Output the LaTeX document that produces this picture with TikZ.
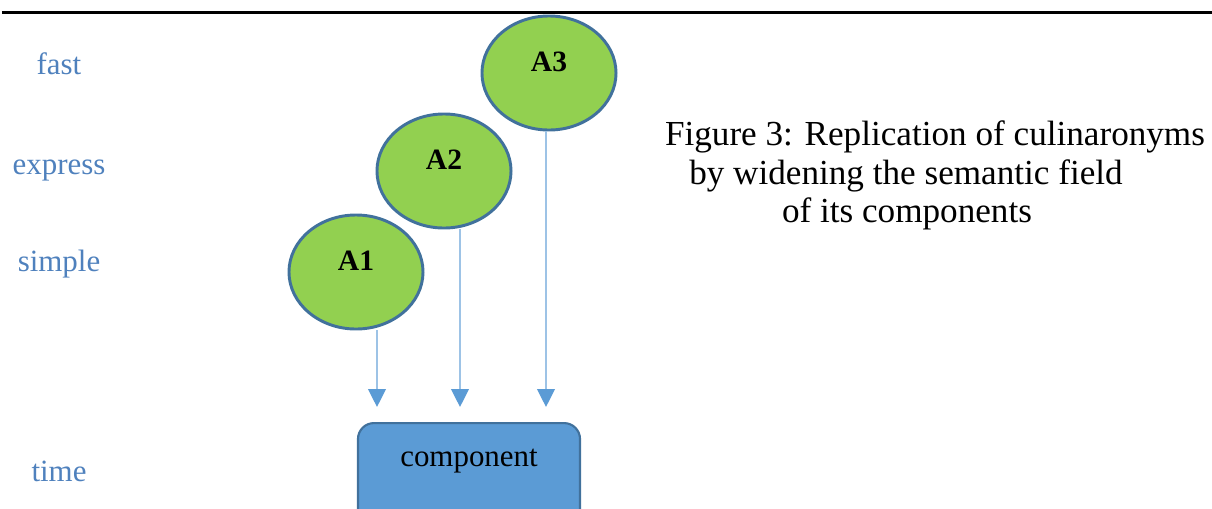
\documentclass[tikz,border=0pt]{standalone}
\usepackage{fontspec}
\setmainfont{Liberation Serif}
\usetikzlibrary{arrows.meta,shapes.geometric}

\definecolor{leafgreen}{HTML}{92D050}
\definecolor{rimblue}{HTML}{41719C}
\definecolor{boxblue}{HTML}{5B9BD5}
\definecolor{paleblue}{HTML}{9DC3E6}
\definecolor{tagblue}{HTML}{4F81BD}

\begin{document}
\begin{tikzpicture}[x=0.025cm,y=-0.025cm,
  sense/.style={ellipse, draw=rimblue, fill=leafgreen, line width=2.1pt,
    minimum width=3.35cm, minimum height=2.85cm, inner sep=0pt,
    text height=0.42cm, text depth=0.52cm, font=\fontsize{21}{24}\selectfont\bfseries},
  tag/.style={anchor=base, text=tagblue, font=\fontsize{22}{26}\selectfont},
  caption/.style={anchor=base, font=\fontsize{25}{30}\selectfont},
  feed/.style={draw=paleblue, line width=1.5pt,
    -{Triangle[length=0.45cm, width=0.44cm, color=boxblue, fill=boxblue]}}]

\useasboundingbox (0,0) rectangle (1212,508);

% 1. Rule at the top of the page
\draw[line width=2.1pt] (2,12.5) -- (1212,12.5);

% 2. Labels on the left
\node[tag] (fast) at (59,74) {fast};
\node[tag] (express) at (59,174) {express};
\node[tag] (simple) at (59,271) {simple};
\node[tag] (time) at (59,481) {time};

% 3. The three meanings
\node[sense] (A1) at (356,272) {A1};
\node[sense] (A2) at (444,171) {A2};
\node[sense] (A3) at (549,73) {A3};

% 4. The component box (cut by the page edge)
\node[anchor=north, draw=rimblue, fill=boxblue, line width=1.5pt,
  rounded corners=0.4cm, minimum width=5.55cm, inner sep=0pt,
  text height=1.075cm, text depth=1.65cm,
  font=\fontsize{22}{26}\selectfont] (comp) at (469,422) {component};

% 5. Arrows down to the component
\coordinate (e1) at (377,407);
\coordinate (e2) at (460,407);
\coordinate (e3) at (546,407);
\draw[feed] (e1 |- A1.south) -- (e1);
\draw[feed] (e2 |- A2.south) -- (e2);
\draw[feed] (e3 |- A3.south) -- (e3);

% 6. Caption
\node[caption] (cap1) at (935,145) {Figure 3: Replication of culinaronyms};
\node[caption] (cap2) at (906,184) {by widening the semantic field};
\node[caption] (cap3) at (907,222) {of its components};

\end{tikzpicture}
\end{document}
